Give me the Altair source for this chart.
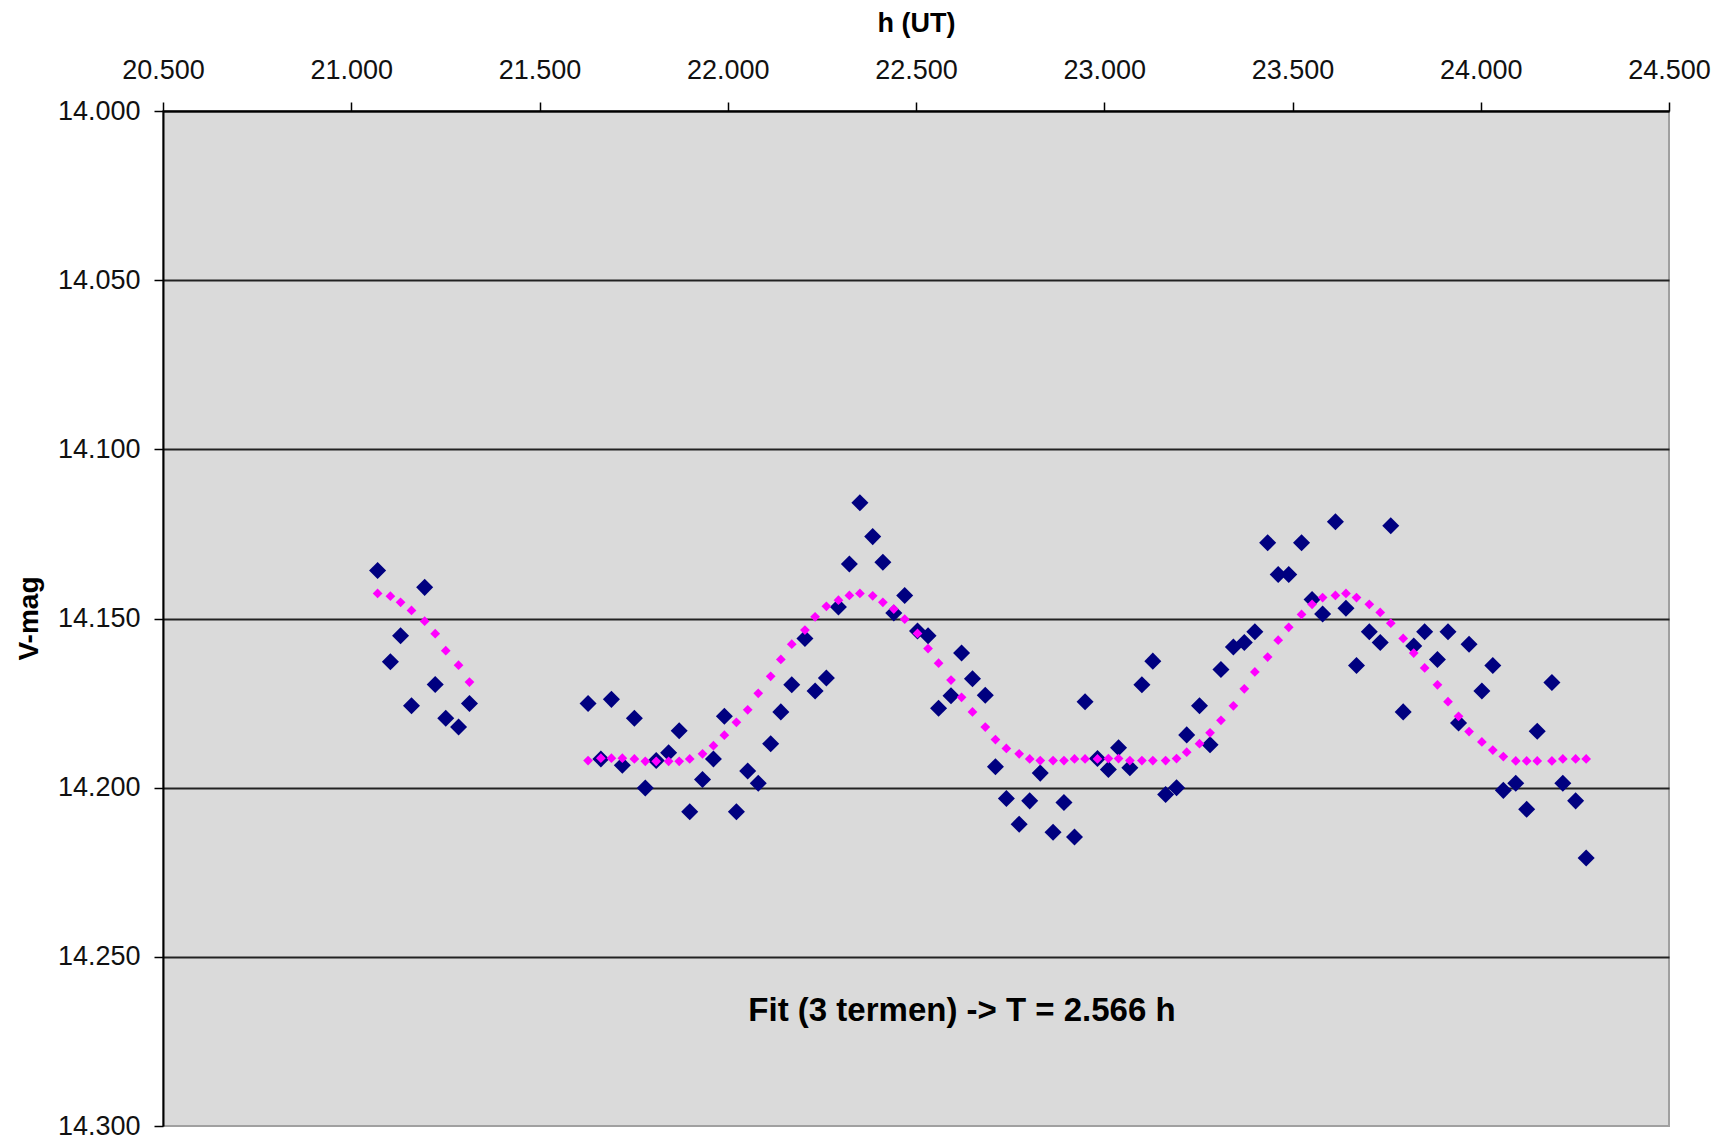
import altair as alt
import pandas as pd

# Time (h UT) of each observation
hours = [
    21.070, 21.104, 21.131, 21.160, 21.195, 21.223, 21.251, 21.285, 21.314,
    21.629, 21.663, 21.691, 21.720, 21.752, 21.781, 21.810, 21.843, 21.871,
    21.899, 21.933, 21.962, 21.991, 22.023,
    22.053, 22.081, 22.114, 22.141, 22.170, 22.205, 22.232, 22.262, 22.294,
    22.323, 22.351, 22.385, 22.412, 22.441, 22.470, 22.504, 22.532, 22.560,
    22.593, 22.621, 22.650, 22.684, 22.711, 22.740, 22.774, 22.802, 22.830,
    22.864, 22.893, 22.921, 22.949, 22.982,
    23.011, 23.038, 23.068, 23.100, 23.129, 23.163, 23.192, 23.219, 23.253,
    23.281, 23.310, 23.343, 23.372, 23.400, 23.434, 23.462, 23.490, 23.524,
    23.552, 23.580, 23.614, 23.642, 23.670, 23.704, 23.733, 23.761,
    23.794, 23.822, 23.851, 23.885, 23.913, 23.941, 23.969, 24.003, 24.032,
    24.060, 24.093, 24.122, 24.150, 24.189, 24.218, 24.252, 24.280,
]

# Measured V magnitude
vmag = [
    14.1358, 14.1628, 14.1551, 14.1758, 14.1408, 14.1695, 14.1795, 14.1821, 14.1751,
    14.1751, 14.1915, 14.1739, 14.1934, 14.1795, 14.2001, 14.1920, 14.1897, 14.1832,
    14.2071, 14.1976, 14.1915, 14.1789, 14.2071,
    14.1951, 14.1987, 14.1870, 14.1776, 14.1696, 14.1559, 14.1714, 14.1676, 14.1466,
    14.1339, 14.1158, 14.1258, 14.1334, 14.1484, 14.1432, 14.1537, 14.1551, 14.1765,
    14.1728, 14.1602, 14.1678, 14.1727, 14.1938, 14.2032, 14.2108, 14.2039, 14.1957,
    14.2132, 14.2044, 14.2146, 14.1746, 14.1914,
    14.1946, 14.1882, 14.1941, 14.1696, 14.1626, 14.2020, 14.2000, 14.1844, 14.1758,
    14.1873, 14.1651, 14.1584, 14.1571, 14.1539, 14.1276, 14.1370, 14.1370, 14.1276,
    14.1444, 14.1487, 14.1214, 14.1470, 14.1639, 14.1539, 14.1571, 14.1226,
    14.1776, 14.1581, 14.1539, 14.1621, 14.1539, 14.1809, 14.1576, 14.1714, 14.1639,
    14.2008, 14.1987, 14.2064, 14.1833, 14.1689, 14.1987, 14.2039, 14.2208,
]

# Fitted curve (3 terms) at each observation time
fit = [
    14.1426, 14.1434, 14.1452, 14.1476, 14.1508, 14.1545, 14.1595, 14.1638, 14.1688,
    14.1920, 14.1913, 14.1913, 14.1913, 14.1915, 14.1922, 14.1922, 14.1922, 14.1922,
    14.1915, 14.1900, 14.1876, 14.1845, 14.1807,
    14.1770, 14.1721, 14.1671, 14.1621, 14.1576, 14.1534, 14.1495, 14.1464, 14.1446,
    14.1432, 14.1426, 14.1433, 14.1452, 14.1472, 14.1502, 14.1544, 14.1589, 14.1632,
    14.1682, 14.1733, 14.1776, 14.1821, 14.1858, 14.1884, 14.1900, 14.1915, 14.1920,
    14.1920, 14.1920, 14.1915, 14.1915, 14.1915,
    14.1914, 14.1914, 14.1920, 14.1920, 14.1920, 14.1920, 14.1914, 14.1895, 14.1870,
    14.1838, 14.1801, 14.1758, 14.1708, 14.1658, 14.1614, 14.1564, 14.1526, 14.1488,
    14.1458, 14.1438, 14.1432, 14.1426, 14.1438, 14.1458, 14.1482, 14.1514,
    14.1559, 14.1602, 14.1646, 14.1696, 14.1746, 14.1789, 14.1834, 14.1865, 14.1889,
    14.1908, 14.1921, 14.1921, 14.1921, 14.1921, 14.1915, 14.1915, 14.1915,
]

x_ticks = [20.5, 21.0, 21.5, 22.0, 22.5, 23.0, 23.5, 24.0, 24.5]
y_ticks = [14.0, 14.05, 14.1, 14.15, 14.2, 14.25, 14.3]
annotation = ["Fit (3 termen) -> T = 2.566 h"]

df = pd.DataFrame({"h": hours, "v": vmag, "fit": fit})

LABEL_FONT = "Liberation Sans"
TITLE_FONT = "Liberation Sans"

x_axis = alt.Axis(
    orient="top", title="h (UT)", values=x_ticks, format=".3f", grid=False,
    domainColor="#000000", domainWidth=2, tickColor="#000000", tickWidth=1.5,
    tickSize=9, labelFont=LABEL_FONT, labelFontSize=27, labelColor="#111111",
    labelPadding=24, labelBaseline="alphabetic", labelFlush=False,
    labelOverlap=False, titleFont=TITLE_FONT, titleFontSize=27,
    titleFontWeight="bold", titleColor="#000000", titleBaseline="alphabetic",
    titleY=-80,
)

y_axis = alt.Axis(
    orient="left", title="V-mag", values=y_ticks, format=".3f", grid=True,
    gridColor=alt.condition("datum.value > 14.29", alt.value("transparent"), alt.value("#222222")),
    gridWidth=2,
    domainColor="#000000", domainWidth=2, tickColor="#000000", tickWidth=1.5,
    tickSize=9, labelFont=LABEL_FONT, labelFontSize=27, labelColor="#111111",
    labelPadding=14, labelFlush=False, labelOverlap=False,
    titleFont=TITLE_FONT, titleFontSize=28, titleFontWeight="bold",
    titleColor="#000000", titleAngle=270, titleBaseline="alphabetic",
    titleX=-126, titleY=507, titleAlign="center",
)

x_enc = alt.X("h:Q", scale=alt.Scale(domain=[20.5, 24.5], nice=False, zero=False), axis=x_axis)
y_enc = alt.Y("v:Q", scale=alt.Scale(domain=[14.0, 14.3], reverse=True, nice=False, zero=False), axis=y_axis)

points = alt.Chart(df).mark_point(
    shape="diamond", filled=True, size=290, color="#000080", opacity=1
).encode(x=x_enc, y=y_enc)

fitpts = alt.Chart(df).mark_point(
    shape="diamond", filled=True, size=95, color="#FF00FF", opacity=1
).encode(x="h:Q", y="fit:Q")

text = alt.Chart(pd.DataFrame({"label": annotation})).mark_text(
    font=TITLE_FONT, fontSize=33, fontWeight="bold", color="#000000",
    align="center", baseline="alphabetic",
).encode(x=alt.value(799), y=alt.value(910), text="label:N")

chart = alt.layer(points, fitpts, text).properties(
    width=1506, height=1015,
    autosize=alt.AutoSizeParams(type="none"),
    padding={"left": 155, "top": 103, "right": 42, "bottom": 16},
    background="#FFFFFF",
).configure_view(fill="#DADADA", stroke="#A0A0A0", strokeWidth=2)

chart.save("out.html", embed_options={"renderer": "svg", "actions": False})
